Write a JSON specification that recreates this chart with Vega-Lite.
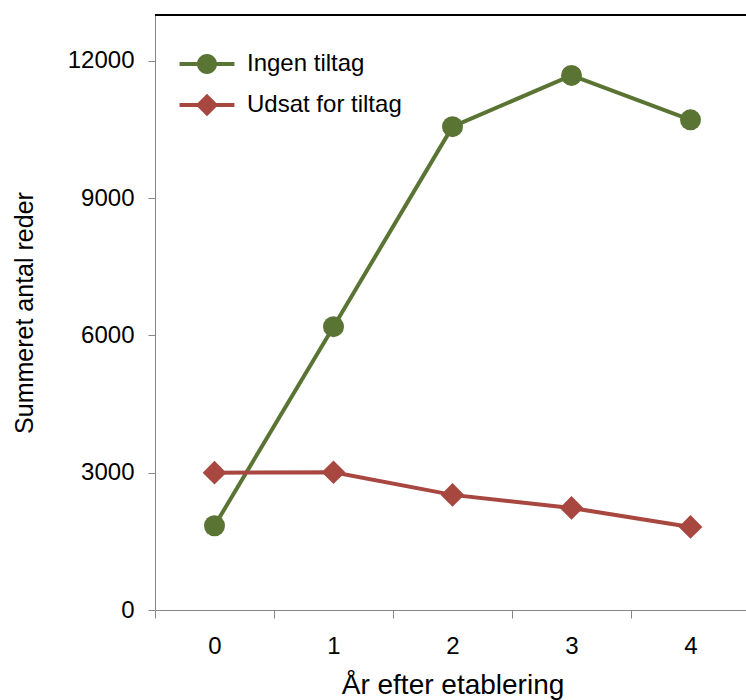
{
  "$schema": "https://vega.github.io/schema/vega-lite/v6.json",
  "width": 595,
  "height": 595,
  "autosize": "none",
  "padding": {"left": 155, "top": 15, "right": 0, "bottom": 90},
  "config": {"view": {"stroke": null}, "font": "Liberation Sans"},
  "data": {
    "values": [
      {"year": "0", "series": "Ingen tiltag", "value": 1840},
      {"year": "1", "series": "Ingen tiltag", "value": 6190},
      {"year": "2", "series": "Ingen tiltag", "value": 10560},
      {"year": "3", "series": "Ingen tiltag", "value": 11680},
      {"year": "4", "series": "Ingen tiltag", "value": 10710},
      {"year": "0", "series": "Udsat for tiltag", "value": 3000},
      {"year": "1", "series": "Udsat for tiltag", "value": 3010},
      {"year": "2", "series": "Udsat for tiltag", "value": 2515},
      {"year": "3", "series": "Udsat for tiltag", "value": 2230},
      {"year": "4", "series": "Udsat for tiltag", "value": 1815}
    ]
  },
  "encoding": {
    "x": {
      "field": "year",
      "type": "ordinal",
      "bandPosition": 0.5,
      "scale": {"type": "band", "paddingInner": 0, "paddingOuter": 0},
      "axis": {
        "title": "År efter etablering",
        "tickBand": "extent",
        "labelAngle": 0,
        "grid": false,
        "domainColor": "#868686",
        "tickColor": "#868686",
        "tickSize": 8,
        "labelFontSize": 24,
        "labelColor": "#000000",
        "labelPadding": 16,
        "titleFontSize": 28,
        "titleFontWeight": "normal",
        "titleColor": "#000000",
        "titlePadding": 13
      }
    },
    "y": {
      "field": "value",
      "type": "quantitative",
      "scale": {"domain": [0, 13000], "nice": false},
      "axis": {
        "title": "Summeret antal reder",
        "values": [0, 3000, 6000, 9000, 12000],
        "format": "d",
        "grid": false,
        "domainColor": "#868686",
        "tickColor": "#868686",
        "tickSize": 7,
        "labelFontSize": 24,
        "labelColor": "#000000",
        "labelPadding": 14,
        "titleFontSize": 25,
        "titleFontWeight": "normal",
        "titleColor": "#000000",
        "titlePadding": 30
      }
    },
    "color": {
      "field": "series",
      "type": "nominal",
      "scale": {"domain": ["Ingen tiltag", "Udsat for tiltag"], "range": ["#5a7434", "#a8473f"]},
      "legend": null
    }
  },
  "layer": [
    {
      "mark": {"type": "rule", "color": "#000000", "strokeWidth": 1.5},
      "encoding": {"y": {"datum": 13000, "type": "quantitative"}, "x": null, "color": null}
    },
    {
      "mark": {"type": "line", "strokeWidth": 4},
      "encoding": {
        "color": {
          "field": "series",
          "type": "nominal",
          "scale": {"domain": ["Ingen tiltag", "Udsat for tiltag"], "range": ["#5a7434", "#a8473f"]},
          "legend": {
            "title": null,
            "orient": "none",
            "legendX": 37,
            "legendY": 34,
            "padding": 0,
            "symbolSize": 900,
            "rowPadding": 14,
            "labelOffset": 25,
            "labelFontSize": 24,
            "labelColor": "#000000",
            "symbolType": "M-1.83,-0.13H1.83V0.13H-1.83Z M0.667,0A0.667,0.667 0 1,1 -0.667,0A0.667,0.667 0 1,1 0.667,0Z",
            "symbolStrokeWidth": 0,
            "symbolOpacity": 1,
            "symbolFillColor": "#5a7434"
          }
        }
      }
    },
    {
      "mark": {"type": "point", "filled": true, "opacity": 0},
      "encoding": {
        "shape": {
          "field": "series",
          "type": "nominal",
          "scale": {
            "domain": ["Ingen tiltag", "Udsat for tiltag"],
            "range": [
              "M-1.83,-0.13H1.83V0.13H-1.83Z M0.667,0A0.667,0.667 0 1,1 -0.667,0A0.667,0.667 0 1,1 0.667,0Z",
              "M-1.83,-0.13H1.83V0.13H-1.83Z M0,-0.75L0.75,0L0,0.75L-0.75,0Z"
            ]
          },
          "legend": null
        }
      }
    },
    {
      "transform": [{"filter": "datum.series === 'Ingen tiltag'"}],
      "mark": {"type": "point", "filled": true, "opacity": 1, "shape": "circle", "size": 440}
    },
    {
      "transform": [{"filter": "datum.series === 'Udsat for tiltag'"}],
      "mark": {"type": "point", "filled": true, "opacity": 1, "shape": "diamond", "size": 560}
    }
  ]
}
